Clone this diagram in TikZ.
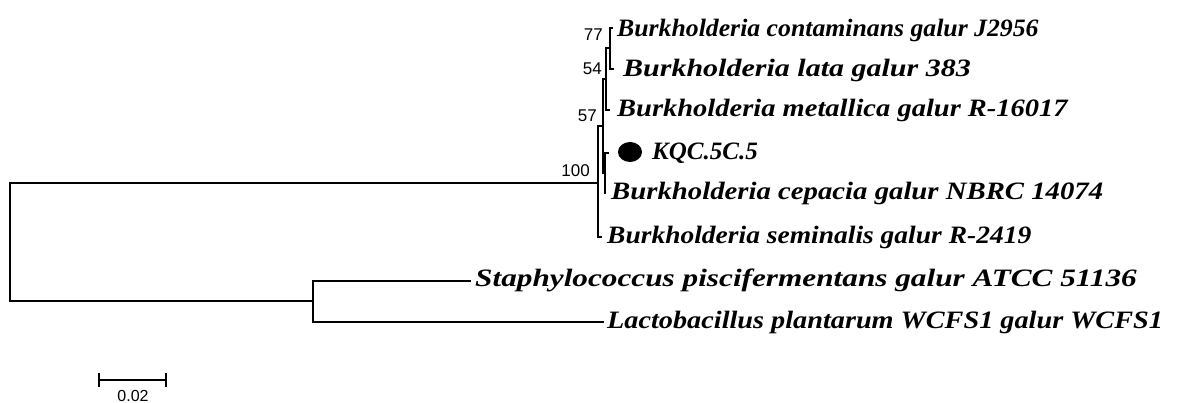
\documentclass[tikz,border=0pt]{standalone}
\usepackage{fontspec}
\setmainfont{Liberation Serif}
\newfontfamily\arialf{Liberation Sans}
\newcommand\txs[2]{\scalebox{#1}[1]{#2}}
\begin{document}
\begin{tikzpicture}[x=1pt,y=-1pt,
  br/.style={line width=1.8pt, line cap=rect},
  taxon/.style={anchor=west, inner sep=0pt, font=\fontsize{25}{25}\selectfont\bfseries\itshape},
  boot/.style={anchor=east, inner sep=0pt, font=\arialf\fontsize{17}{17}\selectfont}]
\useasboundingbox (0,0) rectangle (1179,403);
% internal nodes
\coordinate (root) at (10,242);
\coordinate (n100) at (598,183);
\coordinate (n57) at (603,126);
\coordinate (n54) at (606,79);
\coordinate (n77) at (610,48);
\coordinate (nk) at (605,173);
\coordinate (out) at (313,301);
% tips
\coordinate (tcon) at (612,28);
\coordinate (tlat) at (613,69);
\coordinate (tmet) at (609,110);
\coordinate (tkqc) at (608,153);
\coordinate (tcep) at (605,193);
\coordinate (tsem) at (601,237);
\coordinate (tsta) at (470,281);
\coordinate (tlac) at (603,322);
% branches
\draw[br] (n100) -| (root) |- (out);
\draw[br] (n57) -| (n100) |- (tsem);
\draw[br] (n54) -| (n57) |- (nk);
\draw[br] (n77) -| (n54) |- (tmet);
\draw[br] (tcon) -| (n77) |- (tlat);
\draw[br] (tkqc) -| (nk) |- (tcep);
\draw[br] (tsta) -| (out) |- (tlac);
% labels
\node[taxon] (lcon) at (617,30) {\txs{1.03}{Burkholderia contaminans galur J2956}};
\node[taxon] (llat) at (623,70) {\txs{1.2}{Burkholderia lata galur 383}};
\node[taxon] (lmet) at (617,110) {\txs{1.14}{Burkholderia metallica galur R-16017}};
\fill (630,152) ellipse [x radius=12, y radius=10];
\node[taxon] (lkqc) at (652,153) {KQC.5C.5};
\node[taxon] (lcep) at (611,193) {\txs{1.15}{Burkholderia cepacia galur NBRC 14074}};
\node[taxon] (lsem) at (607,237) {\txs{1.1}{Burkholderia seminalis galur R-2419}};
\node[taxon] (lsta) at (475,280) {\txs{1.25}{Staphylococcus piscifermentans galur ATCC 51136}};
\node[taxon] (llac) at (607,322) {\txs{1.13}{Lactobacillus plantarum WCFS1 galur WCFS1}};
% bootstrap
\node[boot] (b77) at (603,35) {77};
\node[boot] (b54) at (602,69) {54};
\node[boot] (b57) at (597,116) {57};
\node[boot] (b100) at (590,171) {100};
% scale bar
\coordinate (sb1) at (99,380);
\coordinate (sb2) at (166,380);
\draw[line width=2.6pt] (sb1) -- (sb2);
\draw[line width=2.6pt] ([yshift=-7]sb1) -- ([yshift=7]sb1);
\draw[line width=2.6pt] ([yshift=-7]sb2) -- ([yshift=7]sb2);
\node[boot, anchor=center, font=\arialf\fontsize{16}{16}\selectfont] (sbl) at (133,396) {0.02};
\end{tikzpicture}
\end{document}
